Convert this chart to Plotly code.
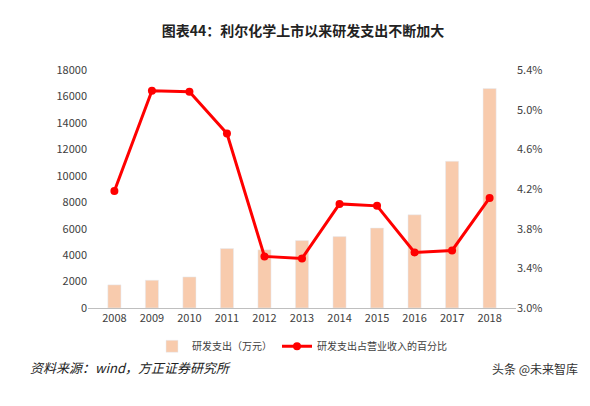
import plotly.graph_objects as go

years = ["2008","2009","2010","2011","2012","2013","2014","2015","2016","2017","2018"]
rd_spend = [1750, 2100, 2350, 4500, 4400, 5100, 5400, 6050, 7050, 11100, 16600]
rd_pct = [4.18, 5.19, 5.18, 4.76, 3.52, 3.50, 4.05, 4.03, 3.56, 3.58, 4.11]
pct_ticks = [3.0, 3.4, 3.8, 4.2, 4.6, 5.0, 5.4]
pct_labels = ["3.0%", "3.4%", "3.8%", "4.2%", "4.6%", "5.0%", "5.4%"]

fig = go.Figure()
fig.add_trace(go.Bar(x=years, y=rd_spend, name="研发支出（万元）", marker_color="#F8CBAD", width=0.35))
fig.add_trace(go.Scatter(x=years, y=rd_pct, name="研发支出占营业收入的百分比", yaxis="y2",
                         mode="lines+markers", line=dict(color="#FF0000", width=3),
                         marker=dict(size=8, color="#FF0000")))
fig.update_layout(
    width=590, height=406, margin=dict(l=80, r=82, t=62, b=106),
    plot_bgcolor="white", paper_bgcolor="white",
    font=dict(family="Noto Sans CJK SC", size=11, color="#404040"),
    title=dict(text="<b>图表44：利尔化学上市以来研发支出不断加大</b>", x=0.5, y=0.955, font=dict(size=14, color="#222")),
    xaxis=dict(showline=True, linecolor="#BFBFBF", ticks=""),
    yaxis=dict(range=[0, 18000], dtick=2000, tickformat="d", showgrid=False, showline=False, ticks=""),
    yaxis2=dict(range=[3.0, 5.4], tickmode="array", tickvals=pct_ticks, ticktext=pct_labels,
                overlaying="y", side="right", showgrid=False, showline=False),
    legend=dict(orientation="h", x=0.5, xanchor="center", y=-0.1, font=dict(size=10)),
    showlegend=True,
)
fig.add_annotation(text="<i>资料来源：wind，方正证券研究所</i>", xref="paper", yref="paper",
                   x=-0.14, y=-0.3, xanchor="left", showarrow=False, font=dict(size=13, color="#222"))
fig.add_annotation(text="头条 @未来智库", xref="paper", yref="paper", x=1.15, y=-0.3,
                   xanchor="right", showarrow=False, font=dict(size=12, color="#333"))
fig.write_html("out.html")
